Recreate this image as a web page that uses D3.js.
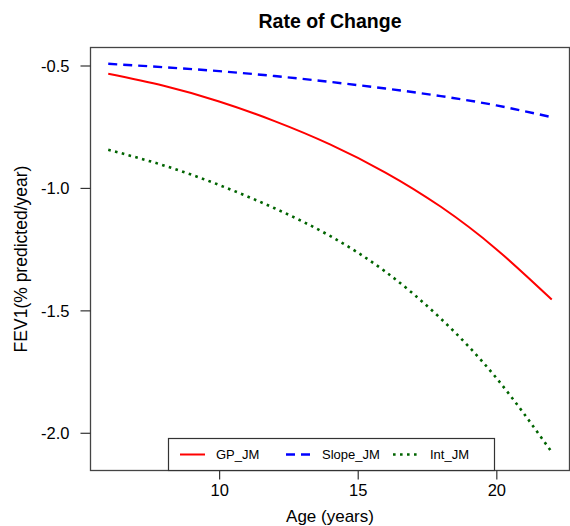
<!DOCTYPE html>
<html>
<head>
<meta charset="utf-8">
<script src="https://cdn.jsdelivr.net/npm/d3@7"></script>
<style>
  body { margin: 0; background: #fff; }
  text { font-family: "Liberation Sans", Arial, sans-serif; fill: #000; }
</style>
</head>
<body>
<div id="chart"></div>
<script>
// data
var ages = [6, 8, 10, 12, 14, 16, 18, 20, 22]
var gpJM = [-0.534, -0.583, -0.647, -0.727, -0.822, -0.937, -1.077, -1.250, -1.456]
var slopeJM = [-0.493, -0.507, -0.523, -0.543, -0.567, -0.594, -0.625, -0.663, -0.711]
var intJM = [-0.844, -0.908, -0.988, -1.083, -1.196, -1.342, -1.534, -1.776, -2.079]
var xTicks = [10, 15, 20]
var yTicks = [-0.5, -1.0, -1.5, -2.0]
var seriesNames = ["GP_JM", "Slope_JM", "Int_JM"]
var seriesColors = ["#ff0000", "#0000ff", "#006400"]

var W = 570, H = 526
// plot box edges (window.top is read-only, so use other names)
var boxL = 90.5, boxR = 569.5, boxT = 47.5, boxB = 470.5

var svg = d3.select('#chart')
  .append('svg')
  .attr("width", W)
  .attr("height", H)

var x = d3.scaleLinear().domain([5.36, 22.64]).range([boxL, boxR])
var y = d3.scaleLinear().domain([-2.154, -0.4265]).range([boxB, boxT])

var series = [
  { name: seriesNames[0], values: gpJM, color: seriesColors[0], dash: null, width: 2 },
  { name: seriesNames[1], values: slopeJM, color: seriesColors[1], dash: "9,6", width: 2.4 },
  { name: seriesNames[2], values: intJM, color: seriesColors[2], dash: "2.6,4.4", width: 2.6 }
]

var line = d3.line()
  .x(function (d) { return x(d[0]) })
  .y(function (d) { return y(d[1]) })
  .curve(d3.curveNatural)

svg.selectAll("path.series")
  .data(series)
  .enter()
  .append("path")
  .attr("class", "series")
  .attr("fill", "none")
  .attr("stroke", function (d) { return d.color })
  .attr("stroke-width", function (d) { return d.width })
  .attr("stroke-dasharray", function (d) { return d.dash })
  .attr("d", function (d) {
    return line(ages.map(function (a, i) { return [a, d.values[i]] }))
  })

// plot box
svg.append("rect")
  .attr("x", boxL).attr("y", boxT)
  .attr("width", boxR - boxL).attr("height", boxB - boxT)
  .attr("fill", "none")
  .attr("stroke", "#444")
  .attr("stroke-width", 1.3)

// axes, plain hyphen for the minus sign like R does
var fmtY = function (d) { return d.toFixed(1) }

var xAxis = svg.append("g")
  .attr("transform", "translate(0," + boxB + ")")
  .call(d3.axisBottom(x).tickValues(xTicks).tickSize(9).tickPadding(5).tickFormat(d3.format("d")))
xAxis.select(".domain").remove()
xAxis.selectAll("line").attr("stroke", "#333").attr("stroke-width", 1.2)
xAxis.selectAll("text").style("font-size", "16.5px")

var yAxis = svg.append("g")
  .attr("transform", "translate(" + boxL + ",0)")
  .call(d3.axisLeft(y).tickValues(yTicks).tickSize(10).tickPadding(11).tickFormat(fmtY))
yAxis.select(".domain").remove()
yAxis.selectAll("line").attr("stroke", "#333").attr("stroke-width", 1.2)
yAxis.selectAll("text").style("font-size", "16.5px").attr("dy", "0.35em")

// titles
svg.append("text")
  .attr("x", (boxL + boxR) / 2).attr("y", 28)
  .attr("text-anchor", "middle")
  .style("font-size", "19.5px").style("font-weight", "bold")
  .text("Rate of Change")

svg.append("text")
  .attr("x", (boxL + boxR) / 2).attr("y", 522)
  .attr("text-anchor", "middle")
  .style("font-size", "17px")
  .text("Age (years)")

svg.append("text")
  .attr("transform", "translate(27," + (boxT + boxB) / 2 + ") rotate(-90)")
  .attr("text-anchor", "middle")
  .style("font-size", "17.5px")
  .text("FEV1(% predicted/year)")

// legend
svg.append("rect")
  .attr("x", 168.5).attr("y", 438.5)
  .attr("width", 326).attr("height", boxB - 438.5)
  .attr("fill", "#fff")
  .attr("stroke", "#333")
  .attr("stroke-width", 1.2)
var legX = [180, 286, 393]
var legTextX = [216, 322, 430]
series.forEach(function (s, i) {
  svg.append("line")
    .attr("x1", legX[i]).attr("x2", legX[i] + 25)
    .attr("y1", 454.5).attr("y2", 454.5)
    .attr("stroke", s.color)
    .attr("stroke-width", s.width)
    .attr("stroke-dasharray", s.dash)
  svg.append("text")
    .attr("x", legTextX[i]).attr("y", 459)
    .style("font-size", "13px")
    .text(s.name)
})
</script>
</body>
</html>
